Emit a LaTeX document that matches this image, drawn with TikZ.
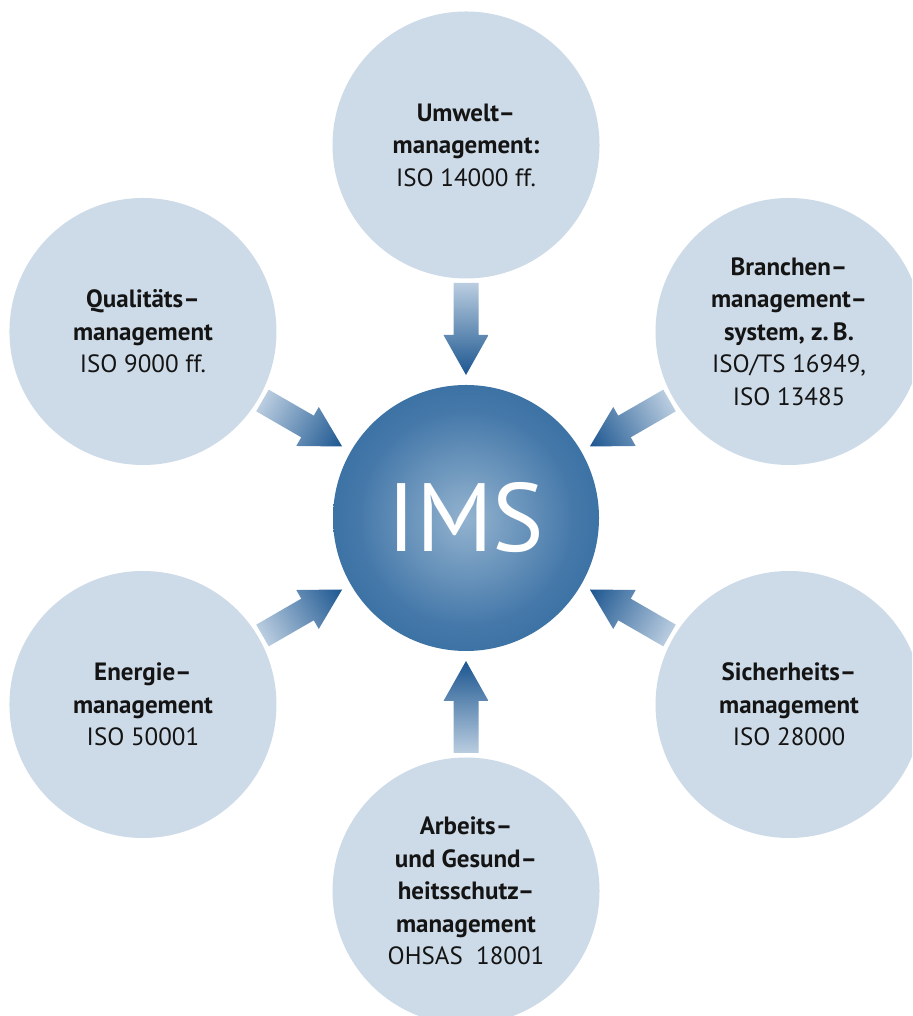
\documentclass[tikz,border=0pt]{standalone}
\usepackage{fontspec}
\setmainfont{PT Sans}
\usetikzlibrary{calc}

\definecolor{circfill}{HTML}{CDDBE8}
\definecolor{imslight}{HTML}{93B3CF}
\definecolor{imsmid}{HTML}{4679AA}
\definecolor{imsdark}{HTML}{1A5891}
\definecolor{arrlight}{HTML}{BACDE0}
\definecolor{arrdark}{HTML}{1C5690}
\definecolor{txtcol}{HTML}{141414}

\pgfdeclareradialshading{imsball}{\pgfpoint{0bp}{0bp}}{color(0bp)=(imslight); color(20bp)=(imsmid); color(44bp)=(imsdark); color(50bp)=(imsdark)}

\tikzset{
  topic/.style={circle, fill=circfill, minimum size=267pt, inner sep=0pt,
    align=center, text=txtcol, font=\fontsize{25}{32.5}\selectfont},
  core/.style={circle, shading=imsball, minimum size=266pt, inner sep=0pt,
    text=white, font=\fontsize{97}{97}\selectfont},
  feed/.style={left color=arrdark, right color=arrlight},
}

\begin{document}
\begin{tikzpicture}[x=1pt,y=1pt]
  \clip (0,0) rectangle (912,1016);
  \fill[white] (0,0) rectangle (912,1016);

  % centre
  \node[core] (ims) at (466,498) {IMS};

  % surrounding topics
  \node[topic] (umwelt) at ($(ims)+(90:373)$)
    {\textbf{Umwelt–}\\\textbf{management:}\\ISO 14000 ff.};
  \node[topic] (branche) at ($(ims)+(30:373)$)
    {\textbf{Branchen–}\\\textbf{management–}\\\textbf{system, z.\,B.}\\ISO/TS 16949,\\ISO 13485};
  \node[topic] (sicher) at ($(ims)+(-30:373)$)
    {\textbf{Sicherheits–}\\\textbf{management}\\ISO 28000};
  \node[topic] (arbeit) at ($(ims)+(-90:373)$)
    {\textbf{Arbeits–}\\\textbf{und Gesund–}\\\textbf{heitsschutz–}\\\textbf{management}\\OHSAS\ \ 18001};
  \node[topic] (energie) at ($(ims)+(-150:373)$)
    {\textbf{Energie–}\\\textbf{management}\\ISO 50001};
  \node[topic] (quali) at ($(ims)+(150:373)$)
    {\textbf{Qualitäts–}\\\textbf{management}\\ISO 9000 ff.};

  % block arrows towards the centre
  \foreach \ang in {90,30,-30,-90,-150,150}{
    \begin{scope}[transform canvas={shift={(ims.center)},rotate=\ang}]
      \shade[feed] (143,0) -- (183,22.5) -- (183,12.5) -- (235,12.5)
        -- (235,-12.5) -- (183,-12.5) -- (183,-22.5) -- cycle;
    \end{scope}
  }
\end{tikzpicture}
\end{document}
